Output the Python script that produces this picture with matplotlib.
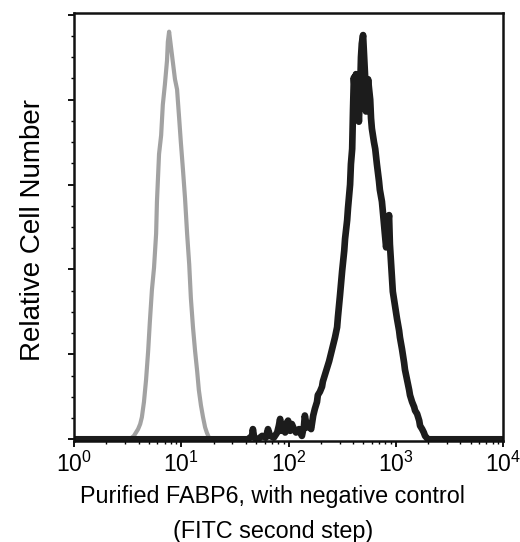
import numpy as np
import matplotlib
matplotlib.use("Agg")
import matplotlib.pyplot as plt
from matplotlib.ticker import LogLocator, LogFormatterMathtext, MultipleLocator, NullFormatter

# ---- data (log channels, 256 channels per decade; counts) ----
channels_per_decade = 256

control_channel = [134, 138, 143, 148, 153, 158, 162, 167, 172, 177, 181, 186, 191, 196,
                   198, 203, 208, 212, 217, 222, 224, 227, 229, 232, 236, 241, 246, 251,
                   255, 260, 265, 270, 275, 279, 284, 289, 294, 298, 303, 308, 313, 317,
                   322, 329]
control_count = [0, 1, 2, 4, 6, 9, 13, 22, 35, 52, 69, 88, 101, 121,
                 140, 168, 179, 197, 209, 223, 234, 240, 236, 230, 222, 212, 206, 189,
                 175, 159, 142, 121, 103, 83, 66, 52, 40, 29, 20, 13, 7, 4,
                 1, 0]

fabp6_channel = [0, 415, 425, 427, 430, 439, 449, 458, 463, 468, 477, 485, 489, 492, 494,
                 499, 504, 506, 511, 516, 520, 525, 530, 537, 544, 549, 551, 556, 561,
                 566, 571, 575, 580, 582, 587, 592, 594, 599, 604, 609, 613, 618, 623,
                 628, 630, 635, 640, 645, 647, 652, 654, 659, 661, 664, 666, 668, 671,
                 673, 676, 678, 680, 683, 685, 687, 690, 692, 695, 697, 699, 702, 704,
                 707, 709, 711, 716, 719, 723, 728, 730, 735, 738, 742, 745, 747, 750,
                 752, 754, 757, 761, 766, 771, 776, 778, 783, 788, 790, 795, 800, 802,
                 807, 812, 814, 819, 824, 826, 831, 835, 838, 845, 1024]
fabp6_count = [0, 0, 2, 6, 1, 0, 2, 1, 6, 2, 1, 4, 8, 12, 5,
               7, 4, 9, 11, 5, 9, 6, 4, 6, 2, 8, 14, 7, 9,
               6, 14, 18, 22, 26, 28, 31, 34, 38, 42, 46, 50, 55, 60,
               66, 72, 85, 99, 111, 118, 129, 136, 150, 162, 171, 194, 213, 203,
               215, 207, 197, 187, 206, 225, 233, 238, 228, 213, 193, 203, 212, 207,
               200, 189, 183, 175, 171, 162, 152, 147, 140, 132, 121, 113, 119, 128,
               132, 115, 103, 87, 79, 71, 64, 60, 53, 45, 41, 35, 29, 26,
               22, 19, 17, 15, 11, 8, 6, 4, 2, 0, 0]

x_tick_values = [1, 10, 100, 1000, 10000]
x_label_line1 = "Purified FABP6, with negative control"
x_label_line2 = "(FITC second step)"
y_label = "Relative Cell Number"

# ---- figure ----
plt.rcParams["font.family"] = ["Liberation Sans", "DejaVu Sans"]
plt.rcParams["mathtext.fontset"] = "custom"
plt.rcParams["mathtext.rm"] = "Liberation Sans"
plt.rcParams["mathtext.it"] = "Liberation Sans:italic"
plt.rcParams["mathtext.bf"] = "Liberation Sans:bold"

fig = plt.figure(figsize=(5.2, 5.42), dpi=100)
ax = fig.add_axes([74 / 520, 1 - 441 / 542, 429 / 520, 428 / 542])

control_x = 10.0 ** (np.array(control_channel) / channels_per_decade)
fabp6_x = 10.0 ** (np.array(fabp6_channel) / channels_per_decade)

ax.plot(control_x, control_count, color="#a2a2a2", lw=3.0, solid_joinstyle="round")
ax.plot(fabp6_x, fabp6_count, color="#1c1c1c", lw=4.8, solid_joinstyle="round",
        solid_capstyle="butt")

ax.set_xscale("log")
ax.set_xlim(1, 10000)
ax.set_ylim(-1, 251)

ax.xaxis.set_major_locator(LogLocator(base=10, subs=(1.0,)))
ax.xaxis.set_major_formatter(LogFormatterMathtext())
ax.xaxis.set_minor_locator(LogLocator(base=10, subs=np.arange(2, 10)))
ax.xaxis.set_minor_formatter(NullFormatter())
ax.set_xticks(x_tick_values)

ax.yaxis.set_major_locator(MultipleLocator(50))
ax.yaxis.set_minor_locator(MultipleLocator(12.5))
ax.yaxis.set_major_formatter(NullFormatter())

ax.tick_params(axis="both", which="major", direction="out", length=4.5, width=1.3,
               color="black")
ax.tick_params(axis="both", which="minor", direction="out", length=2.5, width=1.0,
               color="black")
ax.tick_params(axis="x", which="major", labelsize=16.5, pad=3.5)
ax.tick_params(top=False, right=False)

for s in ax.spines.values():
    s.set_linewidth(1.8)
    s.set_color("#111111")

ax.set_xlabel(x_label_line1 + "\n" + x_label_line2, fontsize=16.8, linespacing=1.68,
              multialignment="center")
ax.xaxis.set_label_coords((273 - 74) / 429, (441 - 485) / 428)
ax.xaxis.label.set_va("top")

ax.set_ylabel(y_label, fontsize=20)
ax.yaxis.set_label_coords((33 - 74) / 429, (441 - 230) / 428)
ax.yaxis.label.set_va("center")

fig.savefig("out.png", dpi=100)
